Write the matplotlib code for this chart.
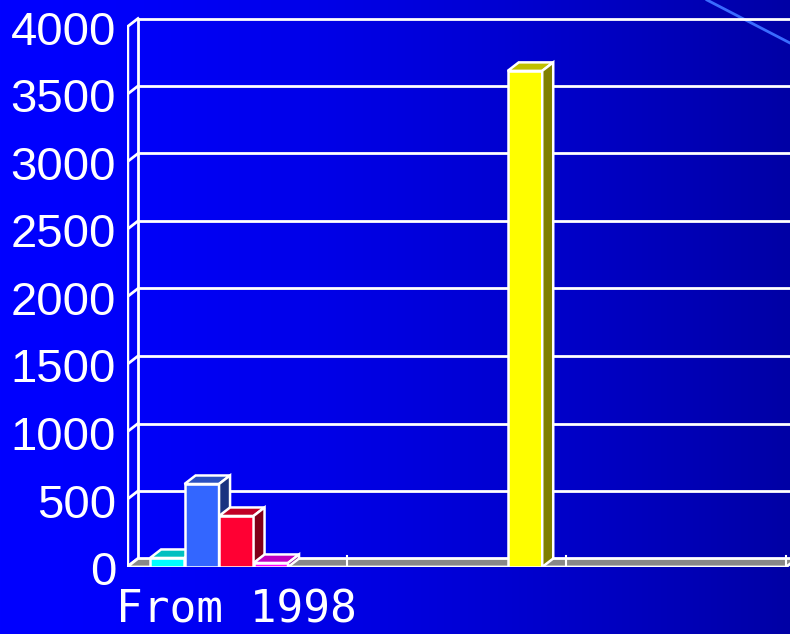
import matplotlib
matplotlib.use("Agg")
import matplotlib.pyplot as plt
import numpy as np
from matplotlib.patches import Polygon

# data
categories = ["From 1998", "", ""]
cyan_vals = [67, 0, 0]
blue_vals = [615, 0, 0]
red_vals = [378, 0, 0]
magenta_vals = [30, 0, 0]
yellow_vals = [0, 3675, 0]
ytick_vals = [0, 500, 1000, 1500, 2000, 2500, 3000, 3500, 4000]

series = [cyan_vals, blue_vals, red_vals, magenta_vals, yellow_vals]
# front, top, side colours for the fake 3d look
face_cols = [("#00FFFF", "#00C0C0", "#008080"),
             ("#3366FF", "#2A50C0", "#1A3380"),
             ("#FF0033", "#C00026", "#800019"),
             ("#FF00FF", "#C000C0", "#800080"),
             ("#FFFF00", "#C0C000", "#808000")]

W, H = 790, 634
fig = plt.figure(figsize=(W / 100, H / 100), dpi=100)

# gradient background
bg = fig.add_axes([0, 0, 1, 1])
t = np.linspace(0, 1, 400)
blue = (255 - 90 * t ** 1.5) / 255
grad = np.zeros((2, 400, 3))
grad[:, :, 2] = blue
bg.imshow(grad, aspect="auto", extent=[0, 1, 0, 1])
bg.set_xlim(0, 1)
bg.set_ylim(0, 1)
bg.axis("off")
# diagonal decoration line top right
bg.plot([707 / W, 1.0], [1.0, 1 - 43 / H], color="#3A6BFF", lw=2)

# main axes: origin at front floor corner
x0_px, y0_px = 127, 567
grp_px = 219.7
px_per_unit = 0.135
ax = fig.add_axes([x0_px / W, (H - y0_px) / H, (W - x0_px) / W, y0_px / H])
ax.set_xlim(0, (W - x0_px) / grp_px)
ax.set_ylim(0, y0_px / px_per_unit)
ax.axis("off")
ax.patch.set_alpha(0)

dx = 11 / grp_px
dy = 8.5 / px_per_unit
nx = len(categories)
wc = "white"

# back wall gridlines + left wall diagonals
for v in ytick_vals:
    if v > 0:
        ax.plot([dx, nx + 2 * dx], [v + dy, v + dy], color=wc, lw=2, zorder=1)
    ax.plot([0, dx], [v, v + dy], color=wc, lw=2, zorder=1)
ax.plot([0, 0], [0, 4000], color=wc, lw=2.5, zorder=1)
ax.plot([dx, dx], [dy, 4000 + dy], color=wc, lw=2, zorder=1)

# floor
floor = Polygon([(0, 0), (nx, 0), (nx + dx, dy), (dx, dy)], closed=True,
                facecolor="#888888", edgecolor=wc, lw=2, zorder=2)
ax.add_patch(floor)
for i in range(1, nx + 1):
    ax.plot([i, i], [0, 11 / px_per_unit], color=wc, lw=1.5, zorder=2)

# bars
bw = 0.157
off = 0.105
z = 3
for g in range(nx):
    for s, vals in enumerate(series):
        h = vals[g]
        if h <= 0:
            continue
        front, top, side = face_cols[s]
        xl = g + off + s * bw
        ax.bar(xl, h, width=bw, align="edge", color=front, edgecolor=wc,
               lw=1.8, zorder=z)
        ax.add_patch(Polygon([(xl, h), (xl + bw, h), (xl + bw + dx, h + dy), (xl + dx, h + dy)],
                             closed=True, facecolor=top, edgecolor=wc, lw=1.8, zorder=z))
        ax.add_patch(Polygon([(xl + bw, 0), (xl + bw + dx, dy), (xl + bw + dx, h + dy), (xl + bw, h)],
                             closed=True, facecolor=side, edgecolor=wc, lw=1.8, zorder=z))
        z += 1

# y tick labels
lab_x = (116 - x0_px) / grp_px
for v in ytick_vals:
    ax.text(lab_x, v - 6 / px_per_unit, str(v), ha="right", va="center",
            color="white", fontsize=34, family="Liberation Sans", clip_on=False)

# category labels
for g, c in enumerate(categories):
    if c:
        ax.text(g + 0.5, -43 / px_per_unit, c, ha="center", va="center",
                color="white", fontsize=32, family="DejaVu Sans Mono", clip_on=False)

fig.savefig("out.png", dpi=100)
